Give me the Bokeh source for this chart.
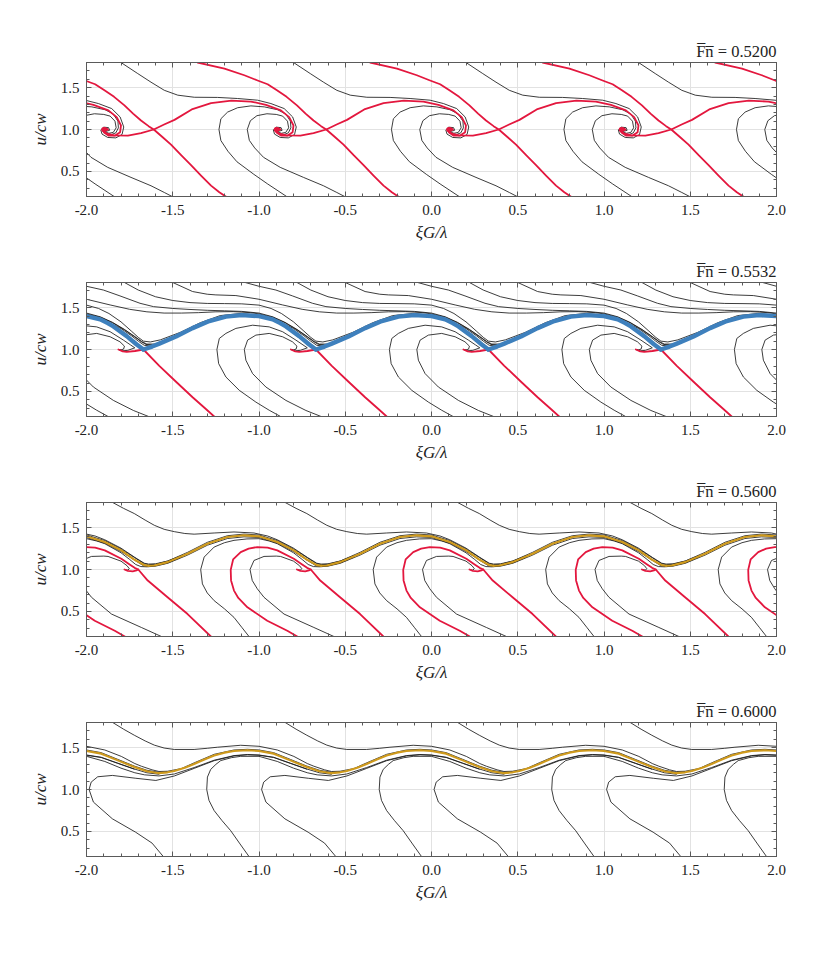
from bokeh.plotting import figure
from bokeh.models import Range1d, LinearAxis, FixedTicker, PrintfTickFormatter, CustomJSTickFormatter
from bokeh.layouts import column
from bokeh.embed import file_html
from bokeh.resources import INLINE

# ---------------- axes / ticks ----------------
X_TICKS = [-2.0, -1.5, -1.0, -0.5, 0.0, 0.5, 1.0, 1.5, 2.0]
X_MINOR = [round(-2.0 + 0.1 * i, 1) for i in range(41)]
Y_TICKS = [0.5, 1.0, 1.5]
Y_MINOR = [round(0.2 + 0.1 * i, 1) for i in range(17)]
X_RANGE = (-2.0, 2.0)
Y_RANGE = (0.2, 1.8)
PERIOD_SHIFTS = [-2, -1, 0, 1, 2, 3]
FN_VALUES = ["0.5200", "0.5532", "0.5600", "0.6000"]
X_LABEL = "\u03beG/\u03bb"
Y_LABEL = "u/cw"

# ---------------- panel 1 : Fn = 0.5200 (one period, repeated every 1.0) ----------------
P1_RED_STABLE = [(-1.356, 1.8), (-1.2, 1.728), (-1.085, 1.648), (-1.012, 1.588), (-0.95, 1.54),
                 (-0.896, 1.468), (-0.84, 1.39), (-0.78, 1.288), (-0.73, 1.19), (-0.684, 1.108),
                 (-0.64, 1.04), (-0.61, 1.0), (-0.56, 0.91), (-0.51, 0.82), (-0.45, 0.69),
                 (-0.394, 0.575), (-0.336, 0.45), (-0.278, 0.33), (-0.23, 0.25), (-0.186, 0.19)]
P1_RED_UNSTABLE = [(-1.9, 1.0), (-1.888, 0.992), (-1.88, 1.004), (-1.893, 1.014), (-1.907, 0.996),
                   (-1.9, 0.972), (-1.881, 0.952), (-1.84, 0.93), (-1.76, 0.928), (-1.684, 0.956),
                   (-1.61, 1.0), (-1.55, 1.06), (-1.49, 1.115), (-1.39, 1.24), (-1.278, 1.316),
                   (-1.16, 1.344), (-1.047, 1.334), (-0.96, 1.295), (-0.873, 1.228), (-0.825, 1.148),
                   (-0.8, 1.048), (-0.805, 0.968), (-0.834, 0.928), (-0.873, 0.928), (-0.898, 0.965),
                   (-0.905, 0.998), (-0.89, 1.016), (-0.876, 1.0), (-0.89, 0.987), (-0.9, 1.0)]
P1_BLACK_A = [(-1.8, 1.8), (-1.703, 1.668), (-1.626, 1.565), (-1.549, 1.468), (-1.471, 1.41),
              (-1.375, 1.385), (-1.24, 1.383), (-1.124, 1.37), (-1.008, 1.35), (-0.931, 1.31),
              (-0.854, 1.25), (-0.805, 1.15), (-0.784, 1.03), (-0.794, 0.94), (-0.83, 0.9),
              (-0.877, 0.905), (-0.91, 0.945), (-0.917, 0.995), (-0.9, 1.028), (-0.872, 1.022),
              (-0.866, 0.99), (-0.888, 0.978), (-0.9, 1.0)]
P1_BLACK_B = [(-0.84, 0.2), (-0.95, 0.35), (-1.03, 0.465), (-1.128, 0.615), (-1.18, 0.74),
              (-1.221, 0.868), (-1.232, 1.0), (-1.221, 1.128), (-1.182, 1.208), (-1.124, 1.26),
              (-1.047, 1.282), (-0.969, 1.27), (-0.892, 1.236), (-0.845, 1.185), (-0.818, 1.1),
              (-0.815, 1.02), (-0.83, 0.96), (-0.855, 0.94), (-0.88, 0.945), (-0.895, 0.972),
              (-0.898, 1.0), (-0.888, 1.01), (-0.9, 1.0)]
P1_BLACK_C = [(-0.5, 0.196), (-0.549, 0.248), (-0.626, 0.328), (-0.742, 0.428), (-0.877, 0.548),
              (-0.974, 0.668), (-1.025, 0.78), (-1.056, 0.87), (-1.068, 1.0), (-1.05, 1.105),
              (-1.012, 1.165), (-0.954, 1.188), (-0.9, 1.18), (-0.863, 1.16), (-0.835, 1.1),
              (-0.828, 1.02), (-0.845, 0.965), (-0.87, 0.955), (-0.89, 0.97), (-0.898, 0.99), (-0.9, 1.0)]
P1_FOCUS = [(-0.9, 1.0)]

# ---------------- panel 2 : Fn = 0.5532 ----------------
P2_BLUE = [(-1.67, 1.0), (-1.62, 1.035), (-1.578, 1.07), (-1.481, 1.155), (-1.385, 1.255),
           (-1.288, 1.34), (-1.192, 1.392), (-1.1, 1.41), (-1.0, 1.398), (-0.921, 1.36),
           (-0.877, 1.315), (-0.844, 1.275), (-0.767, 1.16), (-0.709, 1.06), (-0.67, 1.0)]
P2_RED_HOOK = [(-1.815, 1.0), (-1.79, 0.978), (-1.767, 0.972), (-1.719, 0.982), (-1.67, 1.0)]
P2_RED_STABLE = [(-1.67, 1.0), (-1.578, 0.805), (-1.481, 0.615), (-1.385, 0.43), (-1.308, 0.29), (-1.26, 0.2)]
P2_C_OUTER = [(-0.875, 0.2), (-0.941, 0.275), (-1.018, 0.372), (-1.114, 0.512), (-1.192, 0.672),
              (-1.234, 0.832), (-1.244, 1.0), (-1.23, 1.132), (-1.192, 1.192), (-1.134, 1.252),
              (-1.037, 1.29), (-0.941, 1.27), (-0.863, 1.212), (-0.786, 1.112), (-0.745, 1.055),
              (-0.72, 1.02), (-0.76, 0.99), (-0.79, 0.985), (-0.815, 1.0)]
P2_C_INNER = [(-0.64, 0.2), (-0.728, 0.272), (-0.844, 0.392), (-0.96, 0.552), (-1.037, 0.712),
              (-1.076, 0.872), (-1.085, 1.0), (-1.066, 1.112), (-1.018, 1.172), (-0.941, 1.192),
              (-0.863, 1.152), (-0.806, 1.092), (-0.78, 1.04), (-0.785, 1.005), (-0.8, 0.995), (-0.815, 1.0)]
P2_Q1 = [(-1.78, 1.8), (-1.7, 1.71), (-1.6, 1.63), (-1.5, 1.585), (-1.4, 1.56), (-1.3, 1.55),
         (-1.2, 1.548), (-1.1, 1.545), (-1.0, 1.53), (-0.93, 1.49), (-0.87, 1.43), (-0.8, 1.33),
         (-0.74, 1.22), (-0.7, 1.145), (-0.67, 1.1), (-0.63, 1.09), (-0.572, 1.115), (-0.456, 1.205),
         (-0.34, 1.32), (-0.225, 1.405), (-0.109, 1.43), (0.0, 1.415), (0.1, 1.355), (0.2, 1.25),
         (0.26, 1.165), (0.3, 1.1), (0.335, 1.05), (0.38, 1.04), (0.43, 1.075)]
P2_Q2 = [(-1.5, 1.8), (-1.385, 1.692), (-1.3, 1.66), (-1.25, 1.652), (-1.134, 1.644), (-1.0, 1.6),
         (-0.863, 1.532), (-0.75, 1.48), (-0.65, 1.45), (-0.55, 1.435), (-0.45, 1.435), (-0.35, 1.44),
         (-0.25, 1.45), (-0.15, 1.452), (-0.05, 1.44), (0.0, 1.425), (0.08, 1.385), (0.15, 1.32),
         (0.22, 1.235), (0.28, 1.15), (0.32, 1.09), (0.345, 1.06), (0.39, 1.055), (0.45, 1.1)]
P2_Q3 = [(-1.08, 1.8), (-1.0, 1.755), (-0.902, 1.71), (-0.806, 1.64), (-0.69, 1.552), (-0.612, 1.512),
         (-0.5, 1.49), (-0.4, 1.478), (-0.3, 1.468), (-0.2, 1.462), (-0.1, 1.455), (0.0, 1.435),
         (0.08, 1.39), (0.15, 1.325), (0.22, 1.24), (0.28, 1.155), (0.32, 1.095), (0.35, 1.065),
         (0.4, 1.065), (0.46, 1.11)]

# ---------------- panel 3 : Fn = 0.5600 ----------------
P3_GOLD = [(-1.64, 1.044), (-1.607, 1.048), (-1.53, 1.088), (-1.414, 1.188), (-1.299, 1.308),
           (-1.183, 1.388), (-1.087, 1.408), (-1.0, 1.396), (-0.894, 1.328), (-0.798, 1.228),
           (-0.721, 1.116), (-0.665, 1.052), (-0.64, 1.044)]
P3_RED_HOOK = [(-0.78, 1.0), (-0.76, 0.983), (-0.732, 0.978), (-0.71, 0.99), (-0.70, 1.0)]
P3_RED_STABLE = [(-0.778, 0.2), (-0.836, 0.268), (-0.952, 0.388), (-1.067, 0.548), (-1.12, 0.66),
                 (-1.145, 0.748), (-1.162, 0.87), (-1.164, 0.996), (-1.15, 1.12), (-1.106, 1.208),
                 (-1.06, 1.25), (-1.01, 1.268), (-0.95, 1.26), (-0.894, 1.228), (-0.798, 1.128),
                 (-0.75, 1.06), (-0.721, 1.02), (-0.70, 1.0), (-0.645, 0.868), (-0.53, 0.668),
                 (-0.414, 0.468), (-0.279, 0.2)]
P3_BLACK_TOP = [(-1.848, 1.8), (-1.785, 1.73), (-1.723, 1.668), (-1.66, 1.59), (-1.607, 1.528),
                (-1.55, 1.48), (-1.491, 1.452), (-1.43, 1.43), (-1.376, 1.422), (-1.26, 1.436),
                (-1.145, 1.448), (-1.029, 1.436), (-0.95, 1.4), (-0.894, 1.355), (-0.8, 1.255),
                (-0.72, 1.145), (-0.665, 1.075), (-0.64, 1.065), (-0.6, 1.068), (-0.528, 1.102),
                (-0.414, 1.205), (-0.299, 1.325), (-0.183, 1.403), (-0.087, 1.423), (0.0, 1.412),
                (0.106, 1.345), (0.2, 1.245), (0.28, 1.14), (0.335, 1.068), (0.36, 1.058),
                (0.4, 1.062), (0.47, 1.1), (0.55, 1.165)]
P3_BLACK_OUTER = [(-1.058, 0.2), (-1.1, 0.31), (-1.145, 0.428), (-1.2, 0.53), (-1.26, 0.628),
                  (-1.3, 0.72), (-1.328, 0.828), (-1.338, 1.0), (-1.318, 1.148), (-1.26, 1.268),
                  (-1.2, 1.32), (-1.145, 1.348), (-1.07, 1.365), (-1.0, 1.368), (-0.94, 1.34),
                  (-0.894, 1.308), (-0.8, 1.2), (-0.75, 1.12), (-0.715, 1.06), (-0.685, 1.035),
                  (-0.65, 1.032), (-0.6, 1.04), (-0.528, 1.075), (-0.414, 1.172), (-0.299, 1.29),
                  (-0.183, 1.37), (-0.087, 1.39), (0.0, 1.382), (0.106, 1.315), (0.2, 1.215),
                  (0.28, 1.11), (0.33, 1.045), (0.36, 1.035), (0.4, 1.045), (0.47, 1.078), (0.55, 1.148)]
P3_BLACK_INNER = [(-0.566, 0.2), (-0.682, 0.308), (-0.855, 0.468), (-0.971, 0.668), (-1.01, 0.77),
                  (-1.039, 0.868), (-1.052, 1.0), (-1.029, 1.108), (-0.971, 1.156), (-0.9, 1.16),
                  (-0.875, 1.156), (-0.8, 1.1), (-0.765, 1.045), (-0.752, 1.01), (-0.76, 0.992), (-0.78, 1.0)]

# ---------------- panel 4 : Fn = 0.6000 ----------------
P4_GOLD = [(-1.58, 1.195), (-1.53, 1.205), (-1.491, 1.22), (-1.43, 1.26), (-1.376, 1.305),
           (-1.32, 1.355), (-1.26, 1.405), (-1.2, 1.44), (-1.145, 1.46), (-1.067, 1.468),
           (-1.0, 1.46), (-0.915, 1.428), (-0.819, 1.348), (-0.723, 1.268), (-0.65, 1.218), (-0.58, 1.195)]
P4_BLACK_TOP = [(-1.848, 1.8), (-1.785, 1.72), (-1.723, 1.648), (-1.66, 1.58), (-1.607, 1.53),
                (-1.55, 1.495), (-1.491, 1.478), (-1.376, 1.478), (-1.3, 1.492), (-1.241, 1.505),
                (-1.106, 1.528), (-1.0, 1.516), (-0.894, 1.472), (-0.798, 1.395), (-0.72, 1.31),
                (-0.682, 1.278), (-0.62, 1.235), (-0.58, 1.215), (-0.53, 1.218), (-0.45, 1.25),
                (-0.376, 1.318), (-0.26, 1.42), (-0.145, 1.472), (-0.067, 1.48), (0.0, 1.472),
                (0.085, 1.44), (0.181, 1.36), (0.277, 1.28), (0.35, 1.23), (0.42, 1.205), (0.47, 1.21)]
P4_C1 = [(-1.058, 0.2), (-1.11, 0.35), (-1.164, 0.508), (-1.215, 0.63), (-1.26, 0.748),
         (-1.29, 0.87), (-1.303, 1.0), (-1.299, 1.148), (-1.28, 1.24), (-1.25, 1.3), (-1.222, 1.345),
         (-1.16, 1.38), (-1.106, 1.396), (-1.0, 1.396), (-0.894, 1.335), (-0.8, 1.255), (-0.72, 1.2),
         (-0.663, 1.175), (-0.58, 1.162), (-0.491, 1.185), (-0.376, 1.262), (-0.26, 1.35),
         (-0.145, 1.405), (-0.067, 1.418), (0.0, 1.412), (0.085, 1.385), (0.181, 1.315),
         (0.277, 1.245), (0.35, 1.2), (0.42, 1.182)]
P4_C2 = [(-0.555, 0.2), (-0.62, 0.36), (-0.715, 0.49), (-0.85, 0.65), (-0.96, 0.85), (-0.985, 1.0),
         (-0.973, 1.088), (-0.935, 1.152), (-0.85, 1.168), (-0.714, 1.134), (-0.598, 1.108),
         (-0.49, 1.162), (-0.376, 1.252), (-0.26, 1.344), (-0.145, 1.401), (-0.067, 1.414),
         (0.0, 1.409), (0.085, 1.382), (0.181, 1.312), (0.277, 1.243)]

# ---------------- styles ----------------
BLACK = dict(color="#1a1a1a", width=0.85)
RED = dict(color="#e3173e", width=1.8)
BLUE = dict(color="#3e80bd", width=4.4)
GOLD = dict(color="#cf9a1c", width=2.1)
SERIF = "Liberation Serif"
TEXT_COLOR = "#222222"
AX_COLOR = "#5a5a5a"

PANELS = [
    dict(fn=FN_VALUES[0], curves=[(P1_BLACK_A, BLACK), (P1_BLACK_B, BLACK), (P1_BLACK_C, BLACK),
                                  (P1_RED_STABLE, RED), (P1_RED_UNSTABLE, RED)], focus=P1_FOCUS),
    dict(fn=FN_VALUES[1], curves=[(P2_Q1, BLACK), (P2_Q2, BLACK), (P2_Q3, BLACK), (P2_C_OUTER, BLACK),
                                  (P2_C_INNER, BLACK), (P2_RED_HOOK, RED), (P2_RED_STABLE, RED),
                                  (P2_BLUE, BLUE)], focus=None),
    dict(fn=FN_VALUES[2], curves=[(P3_BLACK_TOP, BLACK), (P3_BLACK_OUTER, BLACK), (P3_BLACK_INNER, BLACK),
                                  (P3_RED_HOOK, RED), (P3_RED_STABLE, RED), (P3_GOLD, GOLD)], focus=None),
    dict(fn=FN_VALUES[3], curves=[(P4_BLACK_TOP, BLACK), (P4_C1, BLACK), (P4_C2, BLACK),
                                  (P4_GOLD, GOLD)], focus=None),
]


def style_axis(ax, ticks, minor, labels):
    ax.ticker = FixedTicker(ticks=ticks, minor_ticks=minor)
    ax.axis_line_color = AX_COLOR
    ax.axis_line_width = 1
    ax.major_tick_line_color = AX_COLOR
    ax.minor_tick_line_color = AX_COLOR
    ax.major_tick_in = 5
    ax.major_tick_out = 0
    ax.minor_tick_in = 3
    ax.minor_tick_out = 0
    if labels:
        ax.formatter = PrintfTickFormatter(format="%.1f")
        ax.major_label_text_font = SERIF
        ax.major_label_text_font_size = "15px"
        ax.major_label_text_color = TEXT_COLOR
        ax.axis_label_text_font = SERIF
        ax.axis_label_text_font_size = "17px"
        ax.axis_label_text_font_style = "italic"
        ax.axis_label_text_color = TEXT_COLOR
    else:
        ax.formatter = CustomJSTickFormatter(code="return ''")
        ax.major_label_standoff = 0
        ax.major_label_text_font_size = "0px"


def make_panel(spec, first):
    p = figure(frame_width=690, frame_height=134,
               x_range=Range1d(*X_RANGE), y_range=Range1d(*Y_RANGE),
               output_backend="svg", toolbar_location=None,
               min_border_left=86, min_border_right=30,
               min_border_top=62 if first else 30, min_border_bottom=56,
               background_fill_color="white", border_fill_color="white")
    p.outline_line_color = AX_COLOR
    style_axis(p.xaxis[0], X_TICKS, X_MINOR, True)
    style_axis(p.yaxis[0], Y_TICKS, Y_MINOR, True)
    p.xaxis[0].major_label_standoff = 8
    p.yaxis[0].major_label_standoff = 7
    p.xaxis[0].axis_label = X_LABEL
    p.yaxis[0].axis_label = Y_LABEL
    p.xaxis[0].axis_label_standoff = 5
    p.yaxis[0].axis_label_standoff = 8

    top = LinearAxis()
    style_axis(top, X_TICKS, X_MINOR, False)
    p.add_layout(top, "above")
    right = LinearAxis()
    style_axis(right, Y_TICKS, Y_MINOR, False)
    p.add_layout(right, "right")

    p.title.text = "F\u0305n\u0305 = " + spec["fn"]
    p.title.align = "right"
    p.title.text_font = SERIF
    p.title.text_font_size = "16.5px"
    p.title.text_font_style = "normal"
    p.title.text_color = TEXT_COLOR
    p.title.standoff = 4

    p.xgrid.ticker = FixedTicker(ticks=X_TICKS)
    p.ygrid.ticker = FixedTicker(ticks=Y_TICKS)
    p.xgrid.grid_line_color = "#e2e2e2"
    p.ygrid.grid_line_color = "#e2e2e2"

    for pts, st in spec["curves"]:
        for k in PERIOD_SHIFTS:
            xs = [x + k for x, _ in pts]
            ys = [y for _, y in pts]
            p.line(xs, ys, line_color=st["color"], line_width=st["width"],
                   line_join="round", line_cap="round")
    if spec["focus"]:
        fx = [x + k for k in PERIOD_SHIFTS for x, _ in spec["focus"]]
        fy = [y for k in PERIOD_SHIFTS for _, y in spec["focus"]]
        p.scatter(fx, fy, size=5, color=RED["color"], line_color=None)
    return p


figs = [make_panel(spec, i == 0) for i, spec in enumerate(PANELS)]
layout = column(*figs, spacing=0)
open("out.html", "w").write(file_html(layout, INLINE, title="phase portraits"))
